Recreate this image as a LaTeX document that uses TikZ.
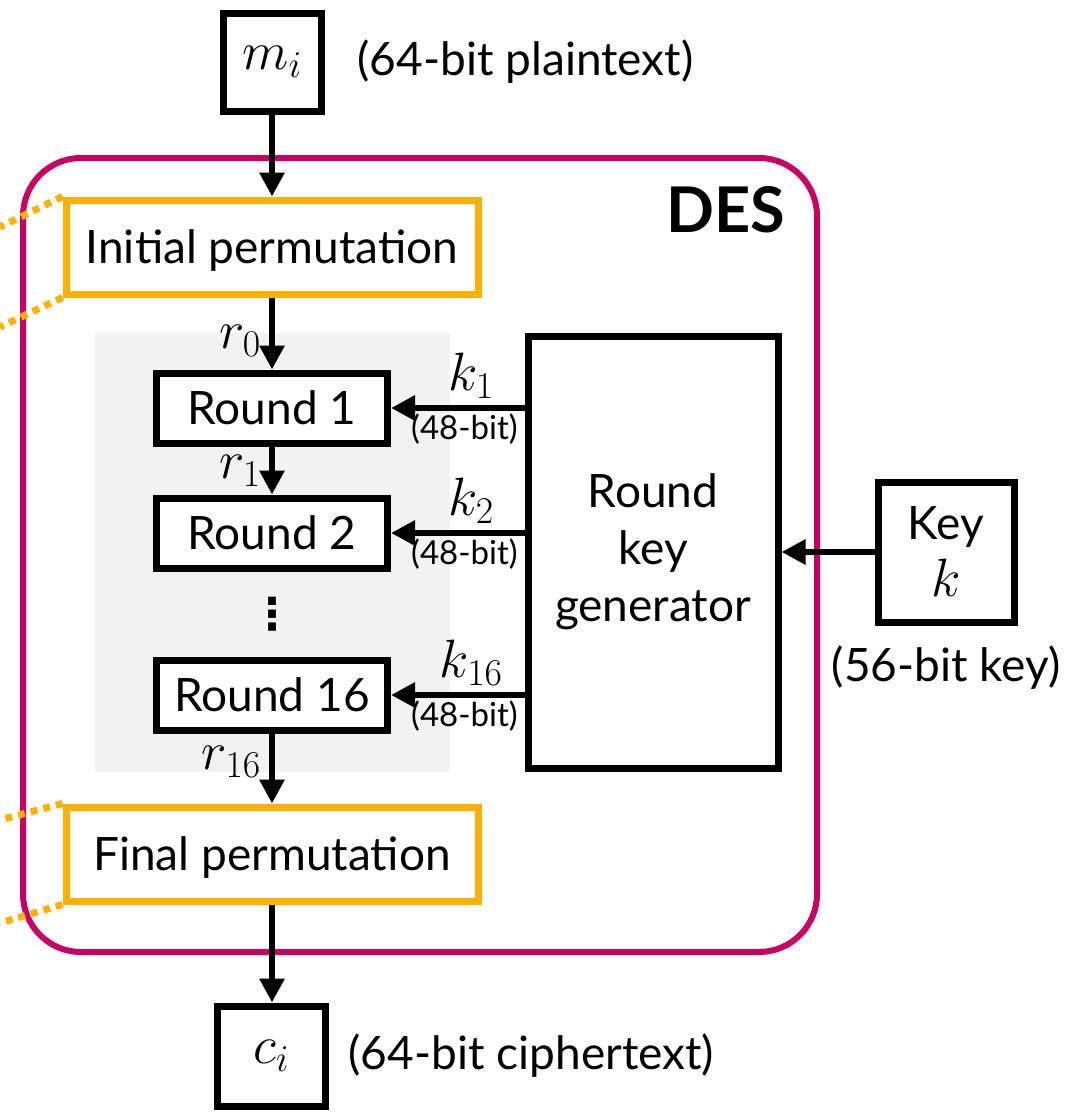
\RequirePackage{fix-cm}
\documentclass[tikz,border=0pt]{standalone}
\usepackage{fontspec}
\setmainfont{Lato}
\newfontfamily\symfont{DejaVu Sans}
\usetikzlibrary{arrows.meta, positioning}
\definecolor{desmagenta}{RGB}{200,0,100}
\definecolor{permorange}{RGB}{255,176,0}
\definecolor{roundgray}{RGB}{242,242,242}
\newcommand{\bigmath}[1]{{\fontsize{54}{58}\selectfont$#1$}}
\tikzstyle{block} = [rectangle, draw, line width=7pt, fill=white, inner sep=0pt,
    minimum width=231pt, minimum height=70pt, font=\fontsize{46}{57}\selectfont, align=center]
\tikzstyle{perm} = [block, draw=permorange, minimum width=412pt, minimum height=94pt, text depth=0pt]
\tikzstyle{io} = [block, minimum width=98pt, minimum height=98pt]
\tikzstyle{desbox} = [rectangle, draw=desmagenta, line width=6pt, rounded corners=58pt,
    minimum width=794pt, minimum height=794pt]
\tikzstyle{graybg} = [rectangle, fill=roundgray, inner sep=0pt, outer sep=0pt,
    minimum width=355pt, minimum height=439pt]
\tikzstyle{line} = [draw, line width=6.5pt, -{Triangle[length=24pt,width=24pt]}]
\tikzstyle{note} = [inner sep=0pt, font=\fontsize{46}{52}\selectfont]
\tikzstyle{bits} = [inner sep=3pt, font=\fontsize{33}{36}\selectfont]
\tikzstyle{zoomline} = [draw=permorange, line width=7pt, dash pattern=on 7pt off 6pt]
\begin{document}
\begin{tikzpicture}[x=1pt, y=-1pt, node distance=40pt]
  \useasboundingbox[fill=white] (0,0) rectangle (1082,1114);
  % DES frame
  \node [desbox] (des) at (420,555) {};
  \node [anchor=north east, inner sep=0pt, font=\fontsize{63}{66}\selectfont\bfseries]
      (deslabel) at ([xshift=-35pt, yshift=-31pt]des.north east) {DES};
  % Permutations and rounds
  \node [perm] (ip) at (272,247) {Initial permutation};
  \node [io, above=82pt of ip] (mi) {\bigmath{m_i}};
  \node [note, right=33pt of mi] (plain) {(64-bit plaintext)};
  \node [graybg, below=35pt of ip] (bg) {};
  \node [block, below=72pt of ip] (r1) {Round 1};
  \node [block, below=48pt of r1] (r2) {Round 2};
  \node [block, below=85pt of r2] (r16) {Round 16};
  \path (r2) -- node [inner sep=0pt, font=\fontsize{44}{44}\symfont\bfseries] (vdots) {⋮} (r16);
  \node [perm, below=70pt of r16] (fp) {Final permutation};
  \node [io, minimum width=108pt, minimum height=100pt, below=98pt of fp, xshift=-1pt] (ci) {\bigmath{c_i}};
  \node [note, right=20pt of ci] (cipher) {(64-bit ciphertext)};
  % Key schedule
  \node [block, minimum width=250pt, minimum height=432pt, right=75pt of bg] (rkg) {Round\\key\\generator};
  \node [block, minimum width=136pt, minimum height=140pt, right=93pt of rkg] (key) {Key\\\bigmath{k}};
  \node [note, below=20pt of key] (keynote) {(56-bit key)};
  % Zoom lines
  \coordinate (ipa) at (0,227);
  \coordinate (ipb) at (0,327);
  \coordinate (fpa) at (0,820);
  \coordinate (fpb) at (0,923);
  \path [zoomline] (ip.north west) -- (ipa);
  \path [zoomline] (ip.south west) -- (ipb);
  \path [zoomline] (fp.north west) -- (fpa);
  \path [zoomline] (fp.south west) -- (fpb);
  % Draw edges
  \path [line] (mi) -- (ip);
  \path [line] (ip) -- node [note, left=8pt, pos=0.6] {\bigmath{r_0}} (r1);
  \path [line] (r1) -- node [note, left=8pt] {\bigmath{r_1}} (r2);
  \path [line] (r16) -- node [note, left=8pt, pos=0.4] {\bigmath{r_{16}}} (fp);
  \path [line] (fp) -- (fp.south |- ci.north);
  \path [line] (key.west) -- (key.west -| rkg.east);
  \path [line] (r1.east -| rkg.west) -- node [note, above=6pt, pos=0.4] {\bigmath{k_1}}
      node [bits, below, pos=0.45] {(48-bit)} (r1.east);
  \path [line] (r2.east -| rkg.west) -- node [note, above=6pt, pos=0.4] {\bigmath{k_2}}
      node [bits, below, pos=0.45] {(48-bit)} (r2.east);
  \path [line] (r16.east -| rkg.west) -- node [note, above=6pt, pos=0.4] {\bigmath{k_{16}}}
      node [bits, below, pos=0.45] {(48-bit)} (r16.east);
\end{tikzpicture}
\end{document}
